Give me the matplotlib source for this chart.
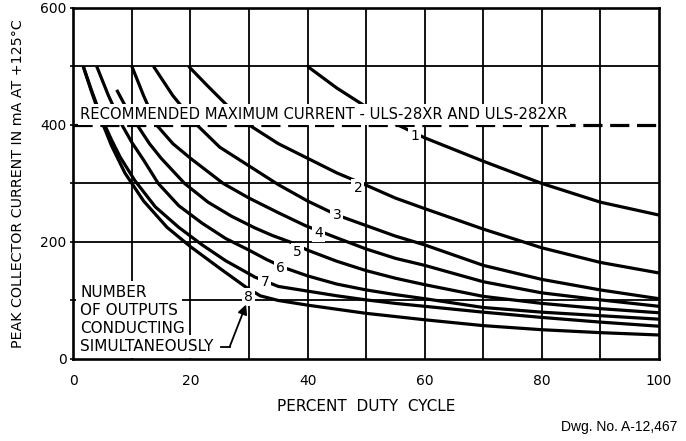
import matplotlib.pyplot as plt

# peak collector current (mA) vs percent duty cycle, one curve per number of outputs
duty_1 = [40, 45, 50, 55, 60, 70, 80, 90, 100]
amps_1 = [500, 463, 431, 402, 378, 338, 300, 268, 246]

duty_2 = [19.7, 23, 26.2, 30, 35, 40, 45, 50, 55, 60, 70, 80, 90, 100]
amps_2 = [500, 466, 434, 400, 368, 343, 318, 297, 275, 257, 222, 190, 165, 147]

duty_3 = [13.7, 17, 21.1, 25, 30, 35, 40, 45, 50, 55, 60, 70, 80, 90, 100]
amps_3 = [500, 450, 400, 362, 330, 298, 270, 246, 228, 210, 195, 160, 136, 118, 103]

duty_4 = [10, 12, 14.2, 17, 20, 25.6, 30, 35, 39.6, 45, 50, 55, 60, 70, 80, 90, 100]
amps_4 = [500, 450, 400, 368, 343, 300, 275, 250, 228, 207, 188, 172, 160, 132, 113, 101, 90]

duty_5 = [7.4, 9, 10.9, 13, 15, 19, 23, 27, 31, 34, 37, 40, 45, 50, 55, 60, 70, 80, 90, 100]
amps_5 = [460, 430, 400, 368, 343, 300, 268, 244, 224, 211, 200, 186, 167, 151, 138, 127, 107, 95, 86, 79]

duty_6 = [4.0, 6, 8.3, 10, 12, 14.5, 18, 22, 26, 30, 33, 36, 40, 45, 50, 55, 60, 70, 80, 90, 100]
amps_6 = [500, 450, 400, 370, 340, 300, 262, 232, 206, 186, 170, 156, 142, 128, 118, 110, 103, 88, 80, 74, 68]

duty_7 = [1.7, 3, 4.9, 6.5, 8, 10.5, 14, 18, 22, 26, 31, 35, 40, 45, 50, 55, 60, 70, 80, 90, 100]
amps_7 = [500, 462, 410, 375, 345, 305, 260, 225, 195, 168, 140, 124, 116, 108, 101, 95, 90, 80, 71, 63, 56]

duty_8 = [1.7, 3, 4.9, 6.5, 8.8, 12, 16, 20, 25, 29.3, 31.9, 35, 40, 45, 50, 60, 70, 80, 90, 100]
amps_8 = [500, 460, 405, 365, 318, 270, 225, 192, 155, 124, 108, 100, 92, 85, 78, 67, 57, 50, 45, 41]

curve_names = ["1", "2", "3", "4", "5", "6", "7", "8"]
max_current = 400

x_labels = [0, 20, 40, 60, 80, 100]
y_labels = [0, 200, 400, 600]
x_grid = [10, 20, 30, 40, 50, 60, 70, 80, 90]
y_grid = [100, 200, 300, 500]

curves = [(duty_1, amps_1), (duty_2, amps_2), (duty_3, amps_3), (duty_4, amps_4),
          (duty_5, amps_5), (duty_6, amps_6), (duty_7, amps_7), (duty_8, amps_8)]
# where each curve number is written along its curve
name_pos = [(58.3, 381), (48.6, 292), (45.0, 246), (41.9, 216),
            (38.2, 183), (35.3, 155), (32.7, 132), (29.9, 106)]

plt.rcParams['font.family'] = ['DejaVu Sans']
fig = plt.figure(figsize=(6.86, 4.41), dpi=100)
ax = fig.add_axes([0.1069, 0.186, 0.8537, 0.796])
ax.set_xlim(0, 100)
ax.set_ylim(0, 600)

for v in x_grid:
    ax.axvline(v, color='k', lw=1.3, zorder=1)
for v in y_grid:
    ax.axhline(v, color='k', lw=1.3, zorder=1)

for d, a in curves:
    ax.plot(d, a, color='k', lw=2.3, solid_capstyle='butt', zorder=2)

ax.axhline(max_current, color='k', lw=2.3, ls=(0, (6, 2.4)), zorder=4)
ax.text(1.2, max_current + 5, "RECOMMENDED MAXIMUM CURRENT - ULS-28XR AND ULS-282XR",
        fontsize=10.6, va='bottom', ha='left', zorder=5,
        bbox=dict(fc='white', ec='none', pad=2.0))

for name, (x, y) in zip(curve_names, name_pos):
    ax.text(x, y, name, fontsize=10, ha='center', va='center', zorder=5,
            bbox=dict(fc='white', ec='none', pad=1.5))

note = ["NUMBER", "OF OUTPUTS", "CONDUCTING", "SIMULTANEOUSLY"]
for k, line in enumerate(note):
    ax.text(1.2, 114 - k * 31, line, fontsize=11, ha='left', va='center', zorder=5,
            bbox=dict(fc='white', ec='none', pad=3.0))
ax.plot([25.3, 26.7], [21, 21], color='k', lw=1.3, zorder=6)
ax.annotate('', xy=(29.5, 93), xytext=(26.7, 21), zorder=6,
            arrowprops=dict(arrowstyle='-|>', color='k', lw=1.3, mutation_scale=14,
                            shrinkA=0, shrinkB=0))

ax.set_xticks(x_labels)
ax.set_yticks(y_labels)
ax.set_yticks([100, 300, 500], minor=True)
ax.tick_params(axis='x', length=0, pad=11, labelsize=10)
ax.tick_params(axis='y', which='both', length=2, width=1.2, pad=3, labelsize=10)
for s in ax.spines.values():
    s.set_linewidth(1.9)
    s.set_zorder(7)

ax.set_xlabel("PERCENT  DUTY  CYCLE", fontsize=11, labelpad=8)
ax.set_ylabel("PEAK COLLECTOR CURRENT IN mA AT +125°C", fontsize=10.3, labelpad=11)

fig.text(0.987, 0.032, "Dwg. No. A-12,467", fontsize=10, ha='right', va='center',
         family='Liberation Sans')

fig.savefig("out.png", dpi=100)
